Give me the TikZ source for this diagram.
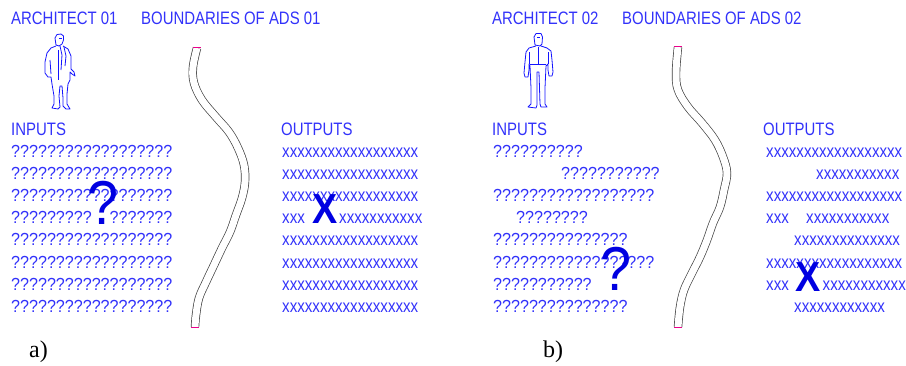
\documentclass[tikz,border=0pt]{standalone}
\usepackage{fontspec}
\setmainfont{Liberation Sans}
\newfontfamily\hdfont[FakeStretch=0.83]{Liberation Sans}
\newfontfamily\qfont[FakeStretch=0.92]{Liberation Sans}
\newfontfamily\xfont[FakeStretch=0.84]{Liberation Sans}
\newfontfamily\bigfont[FakeStretch=0.9]{Liberation Sans}
\newfontfamily\capfont{Liberation Serif}
\definecolor{tblue}{RGB}{50,50,250}
\definecolor{bblue}{RGB}{0,0,225}
\definecolor{fblue}{RGB}{20,20,255}
\tikzset{
 hd/.style={anchor=base west, inner sep=0pt, text=tblue, font=\hdfont\fontsize{18}{18}\selectfont},
 qrow/.style={anchor=base west, inner sep=0pt, text=tblue, font=\qfont\fontsize{17.5}{17.5}\selectfont},
 xrow/.style={anchor=base west, inner sep=0pt, text=tblue, font=\xfont\fontsize{18}{18}\selectfont},
 bigq/.style={anchor=base west, inner sep=0pt, text=bblue, font=\bigfont\fontsize{62}{62}\selectfont},
 bigx/.style={anchor=base west, inner sep=0pt, text=bblue, font=\bigfont\bfseries\fontsize{42}{42}\selectfont},
 capt/.style={anchor=base west, inner sep=0pt, text=black, font=\capfont\fontsize{24}{24}\selectfont},
 bound/.style={draw=black!75, line width=0.7pt, double=white, double distance=7pt},
 endmark/.style={draw=magenta, line width=0.8pt},
 person/.style={draw=fblue, line width=0.8pt, line join=round},
}
\begin{document}
\begin{tikzpicture}[x=1pt,y=-1pt]
\useasboundingbox (0,0) rectangle (906,365);
% ---------------- panel a ----------------
\node[hd] (ta1) at (11,24) {ARCHITECT 01};
\node[hd] (tb1) at (141,24) {BOUNDARIES OF ADS 01};
\node[hd] (in1) at (11,135) {INPUTS};
\node[hd] (out1) at (281,135) {OUTPUTS};
% inputs rows
\foreach \i/\y in {0/157.5,1/179.6,2/201.7,4/245.9,5/268,6/290.1,7/312.2}
  \node[qrow] (lq\i) at (11,\y) {??????????????????};
\node[qrow] (lq3a) at (11,223.8) {?????????};
\node[qrow] (lq3b) at (109.5,223.8) {???????};
% outputs rows
\foreach \i/\y in {0/157.5,1/179.6,2/201.7,4/245.9,5/268,6/290.1,7/312.2}
  \node[xrow] (lx\i) at (282,\y) {xxxxxxxxxxxxxxxxxx};
\node[xrow] (lx3a) at (282,223.8) {xxx};
\node[xrow] (lx3b) at (339,223.8) {xxxxxxxxxxx};
\node[bigq] (bq1) at (87,224) {?};
\node[bigx] (bx1) at (312,223) {X};
\node[capt] (ca) at (29,357) {a)};
% boundary a
\draw[bound] plot[smooth, tension=0.6] coordinates {(197,48) (193,67) (194,83) (202,100) (216,117) (229,132) (238,148) (244,165) (245,182) (242,198) (236,215) (230,232) (222,248) (214,265) (206,282) (199,298) (196,315) (195,327)};
\draw[endmark] (193,47.6) -- (201,47.6);
\draw[endmark] (191,327) -- (199,327);
% person a
\draw[person] (56,45) -- (55,38) -- (57,34.5) -- (61,34) -- (63.5,36) -- (63.5,40) -- (62,44) -- (59,46) -- cycle;
\draw[person] (59,38) -- (62,38);
\draw[person] (56,46) -- (51,48) -- (47,53) -- (45,62) -- (45,73) -- (48,77) -- (51,77) -- (52,84) -- (54,96) -- (54,104) -- (52,108) -- (58,109) -- (60,107) -- (59,96) -- (60,86) -- (62,86) -- (63,98) -- (63,106) -- (66,109) -- (70,109) -- (67,104) -- (67,94) -- (68,84) -- (70,80) -- (70,72) -- (72,74) -- (75,76) -- (74,72) -- (71,69) -- (71,56) -- (68,49) -- (63,46);
\draw[person] (60,46) -- (62,55) -- (61,70);
\draw[person] (64,47) -- (66,56) -- (65,66);
\draw[person] (58,50) -- (58,80);
\draw[person] (50,60) -- (51,74);
% ---------------- panel b ----------------
\node[hd] (ta2) at (492,24) {ARCHITECT 02};
\node[hd] (tb2) at (622,24) {BOUNDARIES OF ADS 02};
\node[hd] (in2) at (492,135) {INPUTS};
\node[hd] (out2) at (763,135) {OUTPUTS};
\node[qrow] (rq0) at (493,157.5) {??????????};
\node[qrow] (rq1) at (561,179.6) {???????????};
\node[qrow] (rq2) at (493,201.7) {??????????????????};
\node[qrow] (rq3) at (516,223.8) {????????};
\node[qrow] (rq4) at (493,245.9) {???????????????};
\node[qrow] (rq5) at (493,268) {??????????????????};
\node[qrow] (rq6) at (493,290.1) {???????????};
\node[qrow] (rq7) at (493,312.2) {???????????????};
\node[xrow] (rx0) at (766,157.5) {xxxxxxxxxxxxxxxxxx};
\node[xrow] (rx1) at (816,179.6) {xxxxxxxxxxx};
\node[xrow] (rx2) at (766,201.7) {xxxxxxxxxxxxxxxxxx};
\node[xrow] (rx3a) at (766,223.8) {xxx};
\node[xrow] (rx3b) at (806,223.8) {xxxxxxxxxxx};
\node[xrow] (rx4) at (794,245.9) {xxxxxxxxxxxxxx};
\node[xrow] (rx5) at (766,268) {xxxxxxxxxxxxxxxxxx};
\node[xrow] (rx6a) at (766,290.1) {xxx};
\node[xrow] (rx6b) at (822.5,290.1) {xxxxxxxxxxx};
\node[xrow] (rx7) at (794,312.2) {xxxxxxxxxxxx};
\node[bigq] (bq2) at (600,290) {?};
\node[bigx] (bx2) at (795,291) {X};
\node[capt] (cb) at (543,357) {b)};
% boundary b
\draw[bound] plot[smooth, tension=0.6] coordinates {(678,47) (676,73) (678,90) (688,107) (702,123) (715,140) (723,157) (727,173) (724,190) (720,207) (713,223) (707,240) (700,257) (692,273) (684,290) (680,307) (678,327)};
\draw[endmark] (674,46.6) -- (682,46.6);
\draw[endmark] (674,327) -- (682,327);
% person b
\draw[person] (535,45) -- (534,37) -- (536,33.5) -- (541,33.5) -- (542.5,37) -- (542,44) -- (540,46) -- cycle;
\draw[person] (537,37) -- (540,37);
\draw[person] (536,46) -- (529,48) -- (526,52) -- (525,62) -- (524,73) -- (525,77) -- (528,77) -- (529,70) -- (529,64) -- (530,66) -- (531,88) -- (531,104) -- (528,107) -- (536,108) -- (537,105) -- (537,72) -- (539,72) -- (540,104) -- (541,107) -- (547,107) -- (545,104) -- (545,88) -- (546,66) -- (548,64) -- (548,70) -- (549,76) -- (552,76) -- (553,72) -- (552,60) -- (551,51) -- (547,48) -- (541,46);
\draw[person] (530,64) -- (546,64);
\draw[person] (529,52) -- (529,64);
\draw[person] (548,52) -- (548,64);
\draw[person] (538,47) -- (538,64);
\end{tikzpicture}
\end{document}
